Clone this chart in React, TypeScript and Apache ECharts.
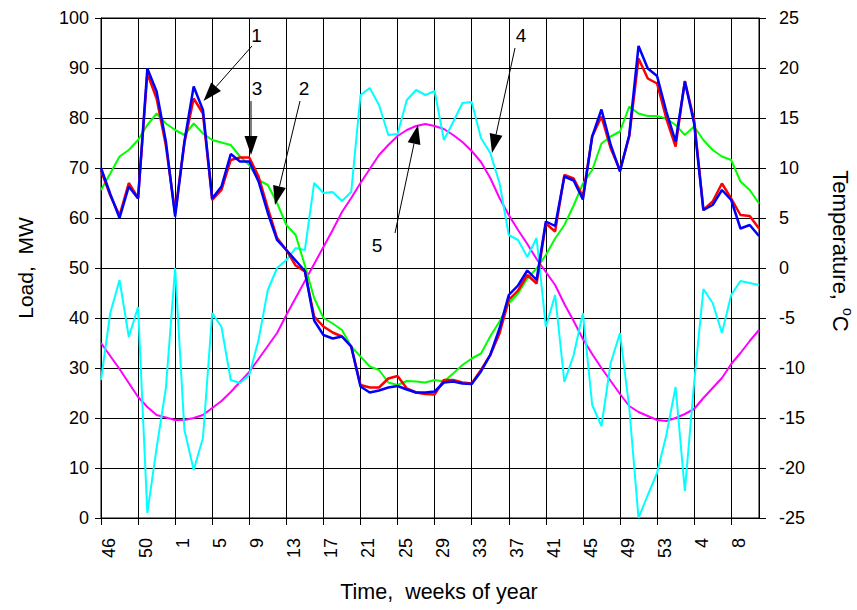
import React, { useEffect, useRef } from "react";
import * as echarts from "echarts";

const FONT = "'Liberation Sans', Arial, sans-serif";

const weeks = [
  "46", "47", "48", "49", "50", "51", "52", "53",
  "1", "2", "3", "4", "5", "6", "7", "8", "9", "10", "11", "12", "13", "14", "15", "16",
  "17", "18", "19", "20", "21", "22", "23", "24", "25", "26", "27", "28", "29", "30",
  "31", "32", "33", "34", "35", "36", "37", "38", "39", "40", "41", "42", "43", "44",
  "45", "46", "47", "48", "49", "50", "51", "52", "53",
  "1", "2", "3", "4", "5", "6", "7", "8", "9", "10", "11",
];

// Load, MW (left axis)
const loadRed = [
  69.5, 64.5, 60.5, 67.0, 64.0, 88.9, 83.9, 74.5, 61.0, 75.0,
  83.9, 80.9, 63.6, 65.6, 71.6, 72.1, 72.1, 68.3, 62.0, 56.0,
  53.6, 50.5, 49.3, 40.3, 38.3, 37.1, 36.3, 34.3, 26.6, 26.1,
  26.1, 27.9, 28.4, 25.9, 25.1, 24.8, 24.7, 27.6, 27.6, 27.1,
  26.9, 29.6, 32.6, 36.9, 43.6, 45.5, 48.6, 46.9, 58.9, 57.3,
  68.6, 67.9, 64.3, 76.3, 80.3, 73.9, 69.6, 76.3, 91.9, 87.9,
  86.9, 79.9, 74.3, 87.4, 79.6, 61.6, 63.3, 66.9, 63.9, 60.6,
  60.4, 57.9,
];
const loadBlue = [
  70.0, 64.8, 60.0, 66.3, 63.9, 89.9, 85.3, 75.3, 60.3, 75.3,
  86.3, 81.6, 63.9, 66.3, 72.8, 71.3, 71.3, 67.3, 61.0, 55.6,
  53.6, 51.5, 49.4, 39.5, 36.6, 35.9, 36.3, 34.3, 26.3, 25.1,
  25.5, 26.1, 26.4, 25.7, 25.1, 25.1, 25.3, 27.1, 27.3, 26.9,
  26.8, 29.3, 32.6, 37.9, 44.6, 46.5, 49.5, 47.6, 59.3, 58.4,
  68.3, 67.5, 63.7, 76.3, 81.7, 74.6, 69.3, 76.6, 94.4, 89.9,
  88.4, 81.3, 75.3, 87.3, 78.9, 61.6, 62.6, 65.6, 63.6, 57.9,
  58.6, 56.4,
];
const loadGreen = [
  65.6, 68.9, 72.3, 73.6, 75.6, 78.6, 80.9, 78.9, 77.6, 76.6,
  78.9, 76.9, 75.6, 75.1, 74.6, 72.3, 70.6, 67.6, 66.6, 63.0,
  58.6, 56.6, 50.5, 44.0, 40.0, 38.9, 37.6, 34.3, 32.3, 30.3,
  29.6, 27.1, 26.6, 27.4, 27.3, 27.1, 27.6, 27.3, 28.9, 30.6,
  31.9, 32.9, 36.3, 39.3, 42.9, 44.9, 47.9, 49.9, 52.6, 55.9,
  58.6, 62.5, 66.9, 69.6, 74.9, 76.3, 77.3, 82.3, 80.9, 80.4,
  80.4, 79.9, 78.6, 76.6, 78.3, 75.6, 73.6, 72.3, 71.6, 67.3,
  65.6, 62.9,
];
// Temperature, °C (right axis)
const tempCyan = [
  -11.2, -4.5, -1.2, -6.9, -3.9, -24.5, -18.0, -12.0, 0.0, -16.2,
  -20.2, -17.0, -4.5, -5.9, -11.2, -11.5, -10.7, -7.2, -2.2, 0.0,
  0.8, 2.0, 1.8, 8.5, 7.5, 7.6, 6.7, 7.6, 17.3, 18.0,
  16.3, 13.3, 13.4, 16.8, 17.8, 17.3, 17.7, 12.8, 14.6, 16.5,
  16.6, 13.0, 11.5, 8.5, 3.3, 2.8, 1.1, 3.0, -5.9, -2.7,
  -11.4, -8.7, -4.5, -13.7, -15.8, -9.5, -6.5, -14.0, -25.0, -22.7,
  -20.5, -16.7, -11.9, -22.3, -11.5, -2.1, -3.5, -6.5, -2.7, -1.3,
  -1.5, -1.7,
];
const tempMagenta = [
  -7.5, -8.8, -10.1, -11.5, -12.9, -13.9, -14.7, -14.95, -15.2, -15.2,
  -15.0, -14.7, -14.0, -13.3, -12.4, -11.4, -10.4, -9.1, -7.8, -6.5,
  -4.7, -3.0, -1.3, 0.4, 2.1, 3.8, 5.6, 7.0, 8.5, 9.9,
  11.3, 12.3, 13.2, 13.8, 14.2, 14.4, 14.2, 13.9, 13.3, 12.6,
  11.7, 10.6, 9.0, 7.0, 5.3, 3.8, 2.4, 0.9, -0.4, -1.7,
  -3.6, -5.3, -7.1, -8.6, -10.0, -11.3, -12.6, -13.8, -14.4, -14.8,
  -15.2, -15.3, -15.0, -14.6, -14.1, -13.0, -12.0, -11.0, -9.6, -8.5,
  -7.3, -6.2,
];

// Annotation callouts: label, label position, arrow start, arrow tip (pixels)
const callouts = [
  { label: "1", lx: 256.5, ly: 35, x1: 252, y1: 46, x2: 203.5, y2: 101 },
  { label: "3", lx: 257, ly: 88, x1: 251, y1: 101, x2: 251, y2: 155 },
  { label: "2", lx: 304, ly: 88, x1: 300, y1: 101, x2: 275, y2: 205 },
  { label: "4", lx: 521, ly: 35, x1: 515, y1: 48, x2: 492, y2: 153 },
  { label: "5", lx: 377, ly: 245, x1: 395, y1: 233, x2: 418, y2: 125 },
];

function arrowElements(c: any) {
  const dx = c.x2 - c.x1;
  const dy = c.y2 - c.y1;
  const len = Math.hypot(dx, dy);
  const ux = dx / len;
  const uy = dy / len;
  const hl = 19;
  const hw = 6.5;
  const bx = c.x2 - ux * hl;
  const by = c.y2 - uy * hl;
  const px = -uy;
  const py = ux;
  return [
    {
      type: "line",
      shape: { x1: c.x1, y1: c.y1, x2: bx, y2: by },
      style: { stroke: "#000", lineWidth: 1 },
      z: 100,
    },
    {
      type: "polygon",
      shape: {
        points: [
          [c.x2, c.y2],
          [bx + px * hw, by + py * hw],
          [bx - px * hw, by - py * hw],
        ],
      },
      style: { fill: "#000" },
      z: 100,
    },
    {
      type: "text",
      x: c.lx,
      y: c.ly,
      style: {
        text: c.label,
        fontSize: 19,
        fontFamily: FONT,
        fill: "#000",
        textAlign: "center",
        textVerticalAlign: "middle",
      },
      z: 100,
    },
  ];
}

export default function App() {
  const ref = useRef<HTMLDivElement>(null);

  useEffect(() => {
    if (!ref.current) return;
    const chart = echarts.init(ref.current, null, { renderer: "svg" });

    const lineSeries = (name: string, data: number[], color: string, width: number, yAxisIndex: number, z: number) => ({
      name,
      type: "line",
      data,
      yAxisIndex,
      symbol: "none",
      z,
      lineStyle: { color, width },
      itemStyle: { color },
    });

    const graphic: any[] = [
      {
        type: "text",
        x: 25,
        y: 268,
        rotation: Math.PI / 2,
        style: {
          text: "Load,  MW",
          fontSize: 21,
          fontFamily: FONT,
          fill: "#000",
          textAlign: "center",
          textVerticalAlign: "middle",
        },
      },
      {
        type: "text",
        x: 842,
        y: 251,
        rotation: -Math.PI / 2,
        style: {
          text: "{a|Temperature,}{sp|\u00A0}{s|o}{a|C}",
          fontFamily: FONT,
          fill: "#000",
          textAlign: "center",
          textVerticalAlign: "middle",
          rich: {
            a: { fontSize: 22, fontFamily: FONT, lineHeight: 25, verticalAlign: "bottom" },
            sp: { fontSize: 22, fontFamily: FONT, lineHeight: 25, width: 8, verticalAlign: "bottom" },
            s: { fontSize: 14, fontFamily: FONT, lineHeight: 25, verticalAlign: "top" },
          },
        },
      },
      {
        type: "text",
        x: 439,
        y: 592,
        style: {
          text: "Time,  weeks of year",
          fontSize: 21.5,
          fontFamily: FONT,
          fill: "#000",
          textAlign: "center",
          textVerticalAlign: "middle",
        },
      },
    ];
    callouts.forEach((c) => graphic.push(...arrowElements(c)));

    const everyFourth = (index: number) => index % 4 === 0;

    const option: any = {
      animation: false,
      textStyle: { fontFamily: FONT },
      grid: {
        left: 101,
        right: 98,
        top: 18,
        bottom: 92,
        show: true,
        borderColor: "#000",
        borderWidth: 1,
        containLabel: false,
        outerBoundsMode: "none",
      },
      xAxis: {
        type: "category",
        data: weeks,
        boundaryGap: false,
        axisLine: { show: true, lineStyle: { color: "#000", width: 1 } },
        axisTick: { show: true, interval: 3, length: 7, lineStyle: { color: "#000" } },
        axisLabel: {
          interval: everyFourth,
          rotate: 90,
          margin: 20,
          fontSize: 18,
          lineHeight: 16,
          verticalAlign: "top",
          color: "#000",
          fontFamily: FONT,
        },
        splitLine: { show: true, interval: 3, lineStyle: { color: "#000", width: 1 } },
      },
      yAxis: [
        {
          type: "value",
          position: "left",
          min: 0,
          max: 100,
          interval: 10,
          axisLine: { show: true, lineStyle: { color: "#000", width: 1 } },
          axisTick: { show: true, length: 6, lineStyle: { color: "#000" } },
          axisLabel: { margin: 12, fontSize: 18, color: "#000", fontFamily: FONT },
          splitLine: { show: true, lineStyle: { color: "#000", width: 1 } },
        },
        {
          type: "value",
          position: "right",
          min: -25,
          max: 25,
          interval: 5,
          axisLine: { show: true, lineStyle: { color: "#000", width: 1 } },
          axisTick: { show: true, length: 7, lineStyle: { color: "#000" } },
          axisLabel: { margin: 20, fontSize: 18, color: "#000", fontFamily: FONT },
          splitLine: { show: false },
        },
      ],
      series: [
        lineSeries("5", tempMagenta, "#FF00FF", 2, 1, 2),
        lineSeries("4", tempCyan, "#00FFFF", 2, 1, 3),
        lineSeries("2", loadGreen, "#00FF00", 2, 0, 4),
        lineSeries("1", loadRed, "#FF0000", 2.5, 0, 5),
        lineSeries("3", loadBlue, "#0000FF", 2.5, 0, 6),
      ],
      graphic,
    };

    chart.setOption(option);
    return () => chart.dispose();
  }, []);

  return (
    <div
      ref={ref}
      style={{ position: "fixed", left: 0, top: 0, width: 857, height: 610, background: "#fff" }}
    />
  );
}
